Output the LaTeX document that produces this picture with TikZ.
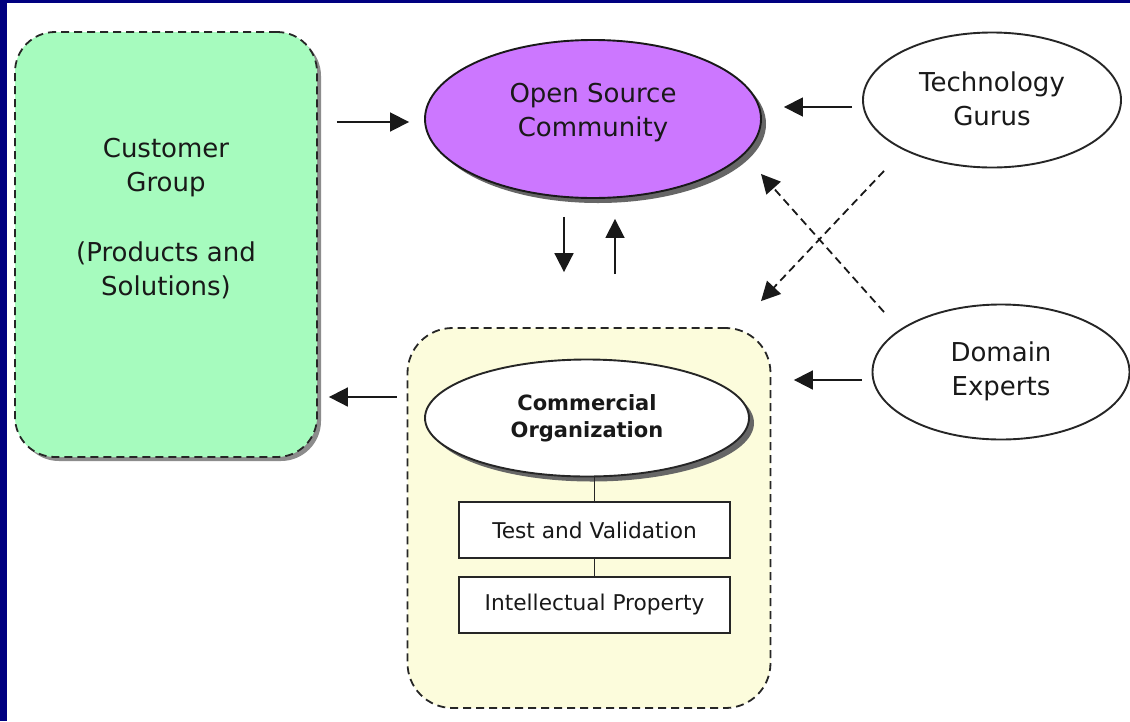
\documentclass[tikz,border=0pt]{standalone}
\usepackage{fontspec}
\setmainfont{DejaVu Sans}
\usetikzlibrary{arrows.meta,shapes.geometric,shadows,calc}
\definecolor{navybar}{RGB}{0,0,128}
\definecolor{cgreen}{RGB}{166,251,190}
\definecolor{cpurple}{RGB}{204,119,255}
\definecolor{cyellow}{RGB}{252,252,220}
\definecolor{ctext}{RGB}{25,25,25}
\begin{document}
\begin{tikzpicture}[x=1pt,y=-1pt,
  bigtxt/.style={font=\fontsize{26}{34}\selectfont, align=center, text=ctext, inner sep=0pt},
  smalltxt/.style={font=\fontsize{21}{27}\selectfont, align=center, text=ctext, inner sep=0pt},
  dashbox/.style={draw=black!85, line width=1.8pt, dash pattern=on 8pt off 5pt},
  plainell/.style={ellipse, draw=black!85, line width=1.9pt, fill=white, inner sep=0pt},
  shad/.style={drop shadow={shadow xshift=5pt, shadow yshift=-5pt, fill=black!60, opacity=1}},
  lightshad/.style={drop shadow={shadow xshift=4pt, shadow yshift=-4pt, fill=black!45, opacity=1}},
  arr/.style={-{Triangle[length=19pt,width=19pt]}, line width=1.8pt, draw=black!90},
  dasharr/.style={arr, dash pattern=on 8pt off 5pt},
  link/.style={line width=1.6pt, draw=black!85},
  rectbox/.style={draw=black!85, line width=1.6pt, fill=white, minimum width=271pt, minimum height=56pt, inner sep=0pt, font=\fontsize{21.7}{27}\selectfont, text=ctext}
]
\useasboundingbox (0,0) rectangle (1130,721);
\fill[white] (0,0) rectangle (1130,721);
\fill[navybar] (0,0) rectangle (7,721);
\fill[navybar] (0,0) rectangle (1130,3);

% Customer group
\node[dashbox, lightshad, fill=cgreen, rounded corners=40pt, minimum width=302pt, minimum height=425pt] (cg) at (166,244.5) {};
\node[bigtxt] (cgt1) at (166,167.5) {Customer\\Group};
\node[bigtxt] (cgt2) at (166,270) {(Products and\\Solutions)};

% Open Source Community
\node[ellipse, draw=black!90, line width=1.9pt, fill=cpurple, shad, minimum width=336pt, minimum height=158pt, inner sep=0pt] (osc) at (593,119) {};
\node[bigtxt] (osct) at (593,113) {Open Source\\Community};

% Technology Gurus
\node[plainell, minimum width=258pt, minimum height=135pt] (tg) at (992,100) {};
\node[bigtxt] (tgt) at (992,99) {Technology\\Gurus};

% Domain Experts
\node[plainell, minimum width=257pt, minimum height=135pt] (de) at (1001,372) {};
\node[bigtxt] (det) at (1001,371.5) {Domain\\Experts};

% Commercial organization container
\node[dashbox, fill=cyellow, rounded corners=45pt, minimum width=363pt, minimum height=380pt] (cobox) at (589,518) {};
\node[plainell, shad, minimum width=324pt, minimum height=117pt] (co) at (587,418) {};
\node[smalltxt, font=\fontsize{21}{27}\selectfont\bfseries] (cot) at (587,418) {Commercial\\Organization};
\node[rectbox] (tv) at (594.5,530) {Test and Validation};
\node[rectbox] (ip) at (594.5,605) {Intellectual Property};
\draw[link] (co.south -| tv.north) -- (tv.north);
\draw[link] (tv.south) -- (ip.north);

% arrows
\draw[arr] ($(cg.east |- osc.west)+(19,3)$) -- ($(osc.west)+(-15,3)$);
\draw[arr] ($(tg.west)+(-10,7)$) -- ($(osc.east)+(22,-12)$);
\draw[arr] ($(osc.south)+(-29,18)$) -- ($(cobox.north)+(-25,-55)$);
\draw[arr] ($(cobox.north)+(26,-53)$) -- ($(osc.south)+(22,20)$);
\draw[arr] ($(de.west)+(-10,8)$) -- ($(cobox.east)+(22.5,-138)$);
\draw[arr] ($(cobox.west)+(-10,-121)$) -- ($(cg.east)+(11,152.5)$);
\draw[dasharr] ($(tg.south)+(-108,2.5)$) -- ($(cobox.north)+(172,-26)$);
\draw[dasharr] ($(de.north)+(-117,8.5)$) -- ($(osc.south)+(168,-25)$);
\end{tikzpicture}
\end{document}
